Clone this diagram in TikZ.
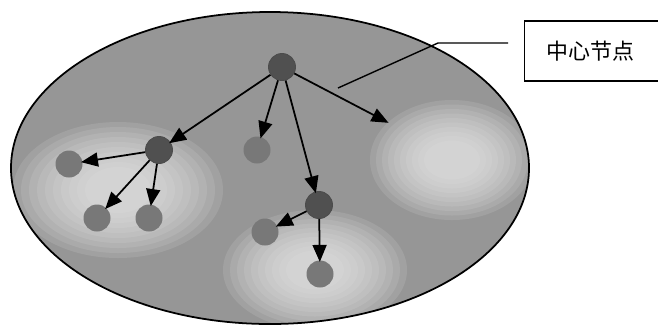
\documentclass[tikz,border=0pt]{standalone}
\usepackage{fontspec}
\newfontfamily\cjk{Noto Sans CJK SC}
\usetikzlibrary{arrows.meta}
\definecolor{bggray}{RGB}{150,150,150}
\definecolor{lightgray}{RGB}{235,235,235}
\definecolor{hubgray}{RGB}{80,80,80}
\definecolor{leafgray}{RGB}{120,120,120}

\begin{document}
\begin{tikzpicture}[x=0.2mm,y=-0.2mm]

		\tikzset{line/.style={draw,line width=1pt}}
		\tikzset{arrow/.style={line,-{Triangle[length=3.4mm,width=2.8mm]},shorten >=-1pt}}
		\tikzset{node/.style={shape=circle,inner sep=0pt,minimum size=5.4mm}}
		\tikzset{hub/.style={node,fill=hubgray,draw=black!70,line width=0.5pt}}
		\tikzset{leaf/.style={node,fill=leafgray}}
		\tikzset{glow/.style={fill=lightgray,opacity=0.13}}

		\useasboundingbox (0,0) rectangle (658,326);

		% background area
		\path[fill=bggray] (270,168) ellipse (259 and 156);
		\begin{scope}
			\clip (270,168) ellipse (259 and 156);
			\foreach \k in {0,...,9} {
				\fill[glow] (118,190) ellipse ({105-8*\k} and {68-5*\k});
				\fill[glow] (315,270) ellipse ({92-7*\k} and {60-4.5*\k});
				\fill[glow] (452,160) ellipse ({82-6*\k} and {60-4.5*\k});
			}
		\end{scope}
		\draw[line width=1pt] (270,168) ellipse (259 and 156);

		% nodes
		\node[hub] (c) at (282,67) {};
		\node[hub] (l) at (159,150) {};
		\node[leaf] (l1) at (69,164) {};
		\node[leaf] (l2) at (97,218) {};
		\node[leaf] (l3) at (149,218) {};
		\node[leaf] (m) at (257,150) {};
		\node[hub] (r) at (319,205) {};
		\node[leaf] (r1) at (265,232) {};
		\node[leaf] (r2) at (320,274) {};
		\coordinate (rr) at (387,122);

		% label
		\node[draw,line width=0.8pt,anchor=west,text width=2.4cm,inner xsep=4.4mm,align=left,minimum height=1.2cm,font=\cjk\fontsize{12.5}{14}\selectfont] (lbl) at (524,51) {中心节点};
		\coordinate (p1) at (508,43);
		\coordinate (p2) at (438,43);
		\coordinate (p3) at (338,88);
		\draw[line width=0.8pt] (p1) -- (p2) -- (p3);

		% connectors
		\path[arrow] (c) to (l);
		\path[arrow] (c) to (m);
		\path[arrow] (c) to (r);
		\path[arrow] (c) to (rr);

		\path[arrow] (l) to (l1);
		\path[arrow] (l) to (l2);
		\path[arrow] (l) to (l3);

		\path[arrow] (r) to (r1);
		\path[arrow] (r) to (r2);

	\end{tikzpicture}
\end{document}
